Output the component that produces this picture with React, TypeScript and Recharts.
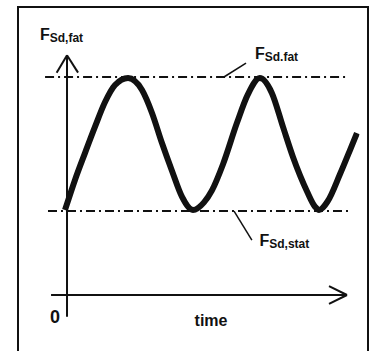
import { LineChart, Line, XAxis, YAxis, ReferenceLine } from "recharts";

// wave (time in arbitrary units, force in arbitrary units)
const waveTime = [-0.15, 0.6, 1.35, 2.1, 2.86, 3.61, 4.59, 5.64, 6.39, 7.14, 7.89, 8.65, 9.47, 10.3, 10.9, 11.73, 12.78, 13.6, 14.5, 15.4, 16.24, 16.99, 18.05, 18.65, 18.95, 19.6, 20.53, 21.28, 21.8];
const waveForce = [3.9, 5.28, 6.51, 7.71, 8.85, 9.63, 9.95, 9.4, 8.35, 6.97, 5.7, 4.5, 3.9, 4.25, 4.8, 6.0, 7.9, 9.2, 9.95, 9.27, 7.71, 6.33, 4.75, 4.05, 3.9, 4.3, 5.55, 6.65, 7.43];

// levels
const fatigueLevel = 10;
const staticLevel = 3.85;

// extents of the hand drawn axes and level lines
const timeAxisStart = -1.2;
const timeAxisEnd = 21.05;
const forceAxisBottom = -1.0;
const forceAxisTop = 11;
const fatLineSpan = [-1.65, 21.05];
const statLineSpan = [-1.43, 21.2];

const data = waveTime.map((t, i) => ({ t, f: waveForce[i] }));

const ink = "#111";
const font = "'Liberation Sans', Arial, Helvetica, sans-serif";

export default function App() {
  return (
    <div style={{ position: "absolute", left: 0, top: 0, width: 374, height: 351, overflow: "hidden", background: "#fff" }}>
      <div
        style={{
          position: "absolute",
          left: 17,
          top: 6,
          width: 352,
          height: 400,
          boxSizing: "border-box",
          borderTop: `2px solid ${ink}`,
          borderLeft: `2px solid ${ink}`,
          borderRight: `2px solid ${ink}`,
        }}
      />
      <div style={{ position: "absolute", left: 0, top: 0 }}>
        <LineChart width={374} height={351} data={data} margin={{ top: 55.2, right: 14.4, bottom: 56, left: 44.4 }}>
          <XAxis type="number" dataKey="t" domain={[-1.7, 22]} hide allowDataOverflow />
          <YAxis type="number" domain={[0, 11]} hide allowDataOverflow />

          {/* level lines */}
          <ReferenceLine
            segment={[{ x: fatLineSpan[0], y: fatigueLevel }, { x: fatLineSpan[1], y: fatigueLevel }]}
            stroke={ink}
            strokeWidth={2}
            strokeDasharray="9 4 2 4"
            ifOverflow="visible"
          />
          <ReferenceLine
            segment={[{ x: statLineSpan[0], y: staticLevel }, { x: statLineSpan[1], y: staticLevel }]}
            stroke={ink}
            strokeWidth={2}
            strokeDasharray="9 4 2 4"
            ifOverflow="visible"
          />

          {/* axes with arrow heads */}
          <ReferenceLine segment={[{ x: timeAxisStart, y: 0 }, { x: timeAxisEnd, y: 0 }]} stroke={ink} strokeWidth={2} ifOverflow="visible" />
          <ReferenceLine segment={[{ x: 19.7, y: 0.41 }, { x: timeAxisEnd, y: 0 }]} stroke={ink} strokeWidth={2} ifOverflow="visible" />
          <ReferenceLine segment={[{ x: 19.7, y: -0.41 }, { x: timeAxisEnd, y: 0 }]} stroke={ink} strokeWidth={2} ifOverflow="visible" />
          <ReferenceLine segment={[{ x: 0, y: forceAxisBottom }, { x: 0, y: forceAxisTop }]} stroke={ink} strokeWidth={2} ifOverflow="visible" />
          <ReferenceLine segment={[{ x: -0.78, y: 10.2 }, { x: 0, y: forceAxisTop }]} stroke={ink} strokeWidth={2} ifOverflow="visible" />
          <ReferenceLine segment={[{ x: 0.83, y: 10.2 }, { x: 0, y: forceAxisTop }]} stroke={ink} strokeWidth={2} ifOverflow="visible" />

          {/* leader lines */}
          <ReferenceLine segment={[{ x: 11.8, y: fatigueLevel }, { x: 13.46, y: 10.64 }]} stroke={ink} strokeWidth={1.5} ifOverflow="visible" />
          <ReferenceLine segment={[{ x: 12.56, y: staticLevel }, { x: 13.9, y: 2.52 }]} stroke={ink} strokeWidth={1.5} ifOverflow="visible" />

          <Line
            type="monotone"
            dataKey="f"
            stroke={ink}
            strokeWidth={6}
            dot={false}
            activeDot={false}
            isAnimationActive={false}
          />
        </LineChart>
      </div>
      <svg width={374} height={351} style={{ position: "absolute", left: 0, top: 0, pointerEvents: "none" }}>
        <g fontFamily={font} fontWeight="bold" fill={ink}>
          <text x={40} y={40} fontSize={16}>
            F<tspan fontSize={12} dy={2}>Sd,fat</tspan>
          </text>
          <text x={255} y={58.5} fontSize={16}>
            F<tspan fontSize={12} dy={2}>Sd.fat</tspan>
          </text>
          <text x={259.5} y={245.5} fontSize={16}>
            F<tspan fontSize={12} dy={2}>Sd,stat</tspan>
          </text>
          <text x={55} y={323} fontSize={18} textAnchor="middle">0</text>
          <text x={211} y={326} fontSize={16} textAnchor="middle">time</text>
        </g>
      </svg>
    </div>
  );
}
